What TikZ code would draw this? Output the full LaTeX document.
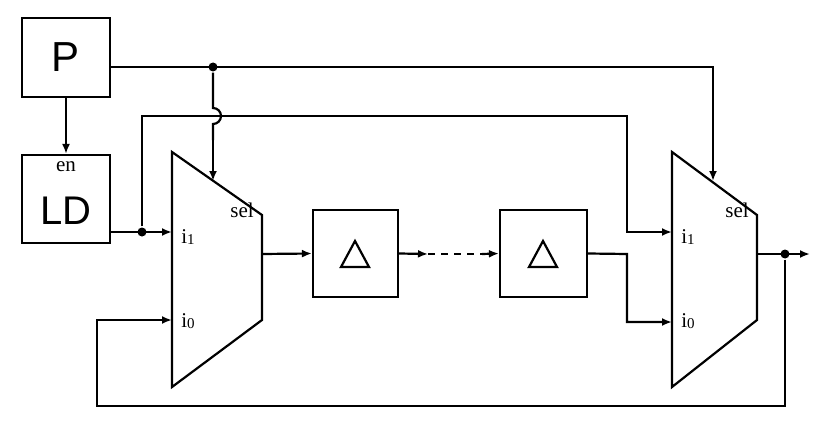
\documentclass[tikz,border=0pt]{standalone}
\usepackage{fontspec}
\newfontfamily\sansf{Liberation Sans}
\newfontfamily\seriff{Liberation Serif}
\usetikzlibrary{arrows.meta}
\newcommand{\lbl}[1]{\seriff\fontsize{21}{21}\selectfont #1}
\newcommand{\ix}[1]{i\raisebox{-1.5pt}{\fontsize{15}{15}\selectfont #1}}
\begin{document}
\begin{tikzpicture}[x=1pt,y=-1pt,line width=2.2pt,
  box/.style={draw,minimum width=88pt,minimum height=86pt,inner sep=0pt},
  arr/.style={-{Latex[length=10pt,width=8pt]}},
  lab/.style={inner sep=0pt},
  dot/.style={circle,fill,inner sep=0pt,minimum size=9pt}]
\useasboundingbox (0,0) rectangle (830,436);
\node[box,minimum height=79pt] (P) at (66,57.5) {\sansf\fontsize{42}{42}\selectfont P};
\node[box,minimum height=88pt] (LD) at (66,199) {};
\node[lab] (en) at (66,167) {\lbl{en}};
\node[inner sep=0pt] (ldt) at (66,211) {\sansf\fontsize{40}{40}\selectfont LD};
\draw[arr] (P.south) -- (LD.north);
% mux1
\draw (172,152) -- (262,215) -- (262,320) -- (172,387) -- cycle;
\coordinate (m1i1) at (172,232); \coordinate (m1i0) at (172,320);
\coordinate (m1sel) at (213,181); \coordinate (m1o) at (262,254);
\node[lab] (s1) at (242,210) {\lbl{sel}};
\node[lab] (a1) at (188,237) {\lbl{\ix{1}}};
\node[lab] (b1) at (188,321) {\lbl{\ix{0}}};
% mux2
\draw (672,152) -- (757,215) -- (757,320) -- (672,387) -- cycle;
\coordinate (m2i1) at (672,232); \coordinate (m2i0) at (672,322);
\coordinate (m2sel) at (713,181); \coordinate (m2o) at (757,254);
\node[lab] (s2) at (737,210) {\lbl{sel}};
\node[lab] (a2) at (688,237) {\lbl{\ix{1}}};
\node[lab] (b2) at (688,321) {\lbl{\ix{0}}};
% delays
\node[box,minimum width=85pt,minimum height=87pt] (d1) at (355.5,253.5) {};
\node[box,minimum width=87pt,minimum height=87pt] (d2) at (543.5,253.5) {};
\draw (341,267) -- (369,267) -- (355,241) -- cycle;
\draw (529,267) -- (557,267) -- (543,241) -- cycle;
\draw[arr] (m1o) -- (d1.west);
\coordinate (c1) at (428,254); \coordinate (c2) at (482,254);
\draw[arr] (d1.east) -- (c1);
\draw[dash pattern=on 7pt off 6pt] (c1) -- (c2);
\draw[arr] (c2) -- (d2.west);
\draw[arr] (d2.east) -- (627,254) -- (627,322) -- (m2i0);
% P lines
\node[dot] (dp) at (213,67) {};
\draw[arr] (P.east |- 0,67) -- (713,67) -- (m2sel);
\draw (dp) -- (213,108) arc[start angle=90,end angle=-90,radius=8pt] -- (213,140);
\draw[arr] (213,140) -- (m1sel);
% LD lines
\node[dot] (dl) at (142,232) {};
\draw[arr] (LD.east |- 0,232) -- (m1i1);
\draw[arr] (dl) -- (142,116) -- (627,116) -- (627,232) -- (m2i1);
% output
\node[dot] (do) at (785,254) {};
\coordinate (out) at (810,254);
\draw[arr] (m2o) -- (out);
\draw[arr] (do) -- (785,406) -- (97,406) -- (97,320) -- (m1i0);
\end{tikzpicture}
\end{document}
